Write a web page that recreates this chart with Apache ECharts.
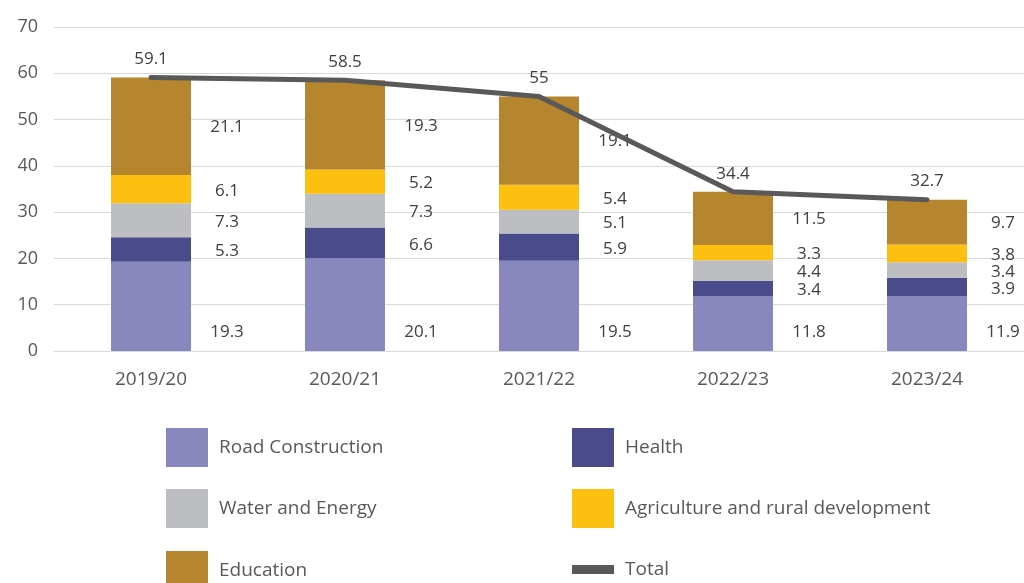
<!DOCTYPE html>
<html>
<head>
<meta charset="utf-8">
<script src="https://cdn.jsdelivr.net/npm/echarts@6/dist/echarts.min.js"></script>
<style>
  html, body { margin: 0; padding: 0; background: #fff; }
  #chart { width: 1024px; height: 583px; }
</style>
</head>
<body>
<div id="chart"></div>
<script>
const years = ['2019/20', '2020/21', '2021/22', '2022/23', '2023/24']
const roadConstruction = [19.3, 20.1, 19.5, 11.8, 11.9]
const health = [5.3, 6.6, 5.9, 3.4, 3.9]
const waterEnergy = [7.3, 7.3, 5.1, 4.4, 3.4]
const agriculture = [6.1, 5.2, 5.4, 3.3, 3.8]
const education = [21.1, 19.3, 19.1, 11.5, 9.7]
const total = [59.1, 58.5, 55, 34.4, 32.7]

const font = 'Open Sans'
const textColor = '#595959'

// labels sit to the right of each bar
function sideLabel(pos, off) {
  return {
    show: true,
    position: pos,
    offset: off,
    align: 'center',
    verticalAlign: 'middle',
    color: '#404040',
    fontFamily: font,
    fontSize: 17
  }
}

function barSeries(name, data, color, label) {
  return {
    name: name,
    type: 'bar',
    stack: 'total',
    barWidth: 80,
    data: data,
    itemStyle: { color: color },
    label: label
  }
}

// one legend per entry so the 2x3 grid can run off the bottom edge like the original
function legendItem(name, left, top, icon) {
  return {
    left: left,
    top: top,
    padding: 0,
    itemWidth: 42,
    itemHeight: 39,
    data: [{ name: name, icon: icon || 'rect' }],
    textStyle: { color: textColor, fontFamily: font, fontSize: 19, padding: [3, 0, 0, 6] }
  }
}

const chart = echarts.init(document.getElementById('chart'))
chart.setOption({
  animation: false,
  grid: { left: 54, top: 27, width: 980, height: 324 },
  xAxis: {
    type: 'category',
    data: years,
    axisTick: { show: false },
    axisLine: { lineStyle: { color: '#D9D9D9' } },
    axisLabel: { color: textColor, fontFamily: font, fontSize: 19, margin: 19 }
  },
  yAxis: {
    type: 'value',
    min: 0,
    max: 70,
    interval: 10,
    axisLabel: { color: textColor, fontFamily: font, fontSize: 18, margin: 16 },
    splitLine: { lineStyle: { color: '#D9D9D9' } }
  },
  legend: [
    legendItem('Road Construction', 166, 428),
    legendItem('Water and Energy', 166, 489),
    legendItem('Education', 166, 551),
    legendItem('Health', 572, 428),
    legendItem('Agriculture and rural development', 572, 489),
    legendItem('Total', 572, 560, 'path://M0,0H42V9H0Z')
  ],
  series: [
    barSeries('Road Construction', roadConstruction, '#8887BE', sideLabel(['100%', '100%'], [36, -19])),
    barSeries('Health', health, '#4A4B8A', sideLabel(['100%', '50%'], [36, 2])),
    barSeries('Water and Energy', waterEnergy, '#BDBEC1', sideLabel(['100%', '50%'], [36, 2])),
    barSeries('Agriculture and rural development', agriculture, '#FDC010', sideLabel(['100%', '50%'], [36, 2])),
    barSeries('Education', education, '#B6862F', sideLabel(['100%', '50%'], [36, 1])),
    {
      name: 'Total',
      type: 'line',
      data: total,
      symbol: 'circle',
      symbolSize: 1,
      lineStyle: { color: '#595959', width: 5, cap: 'round' },
      itemStyle: { color: '#595959' },
      label: {
        show: true,
        position: 'top',
        distance: 9,
        color: '#404040',
        fontFamily: font,
        fontSize: 17
      }
    }
  ]
})
window.addEventListener('resize', () => {
  chart.resize()
})
</script>
</body>
</html>
